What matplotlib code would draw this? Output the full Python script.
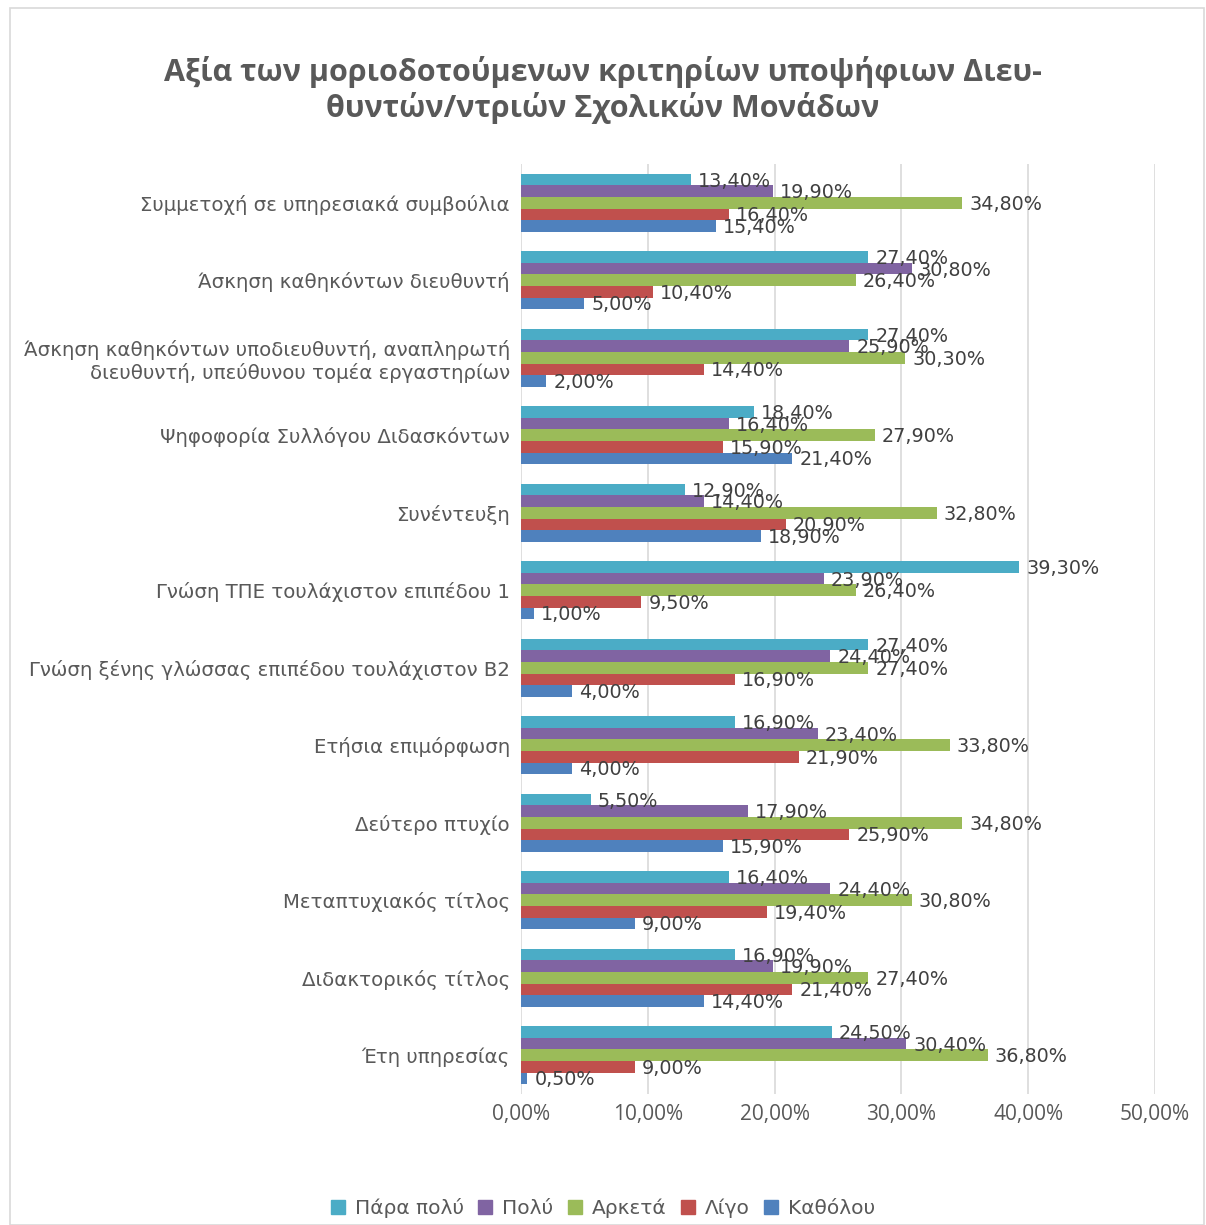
import matplotlib
matplotlib.use("Agg")
import matplotlib.pyplot as plt
from matplotlib.patches import Rectangle
import numpy as np

categories = [
    "Συμμετοχή σε υπηρεσιακά συμβούλια",
    "Άσκηση καθηκόντων διευθυντή",
    "Άσκηση καθηκόντων υποδιευθυντή, αναπληρωτή\nδιευθυντή, υπεύθυνου τομέα εργαστηρίων",
    "Ψηφοφορία Συλλόγου Διδασκόντων",
    "Συνέντευξη",
    "Γνώση ΤΠΕ τουλάχιστον επιπέδου 1",
    "Γνώση ξένης γλώσσας επιπέδου τουλάχιστον Β2",
    "Ετήσια επιμόρφωση",
    "Δεύτερο πτυχίο",
    "Μεταπτυχιακός τίτλος",
    "Διδακτορικός τίτλος",
    "Έτη υπηρεσίας",
]
series_names = ["Πάρα πολύ", "Πολύ", "Αρκετά", "Λίγο", "Καθόλου"]
para_poly = [13.4, 27.4, 27.4, 18.4, 12.9, 39.3, 27.4, 16.9, 5.5, 16.4, 16.9, 24.5]
poly      = [19.9, 30.8, 25.9, 16.4, 14.4, 23.9, 24.4, 23.4, 17.9, 24.4, 19.9, 30.4]
arketa    = [34.8, 26.4, 30.3, 27.9, 32.8, 26.4, 27.4, 33.8, 34.8, 30.8, 27.4, 36.8]
ligo      = [16.4, 10.4, 14.4, 15.9, 20.9, 9.5, 16.9, 21.9, 25.9, 19.4, 21.4, 9.0]
katholou  = [15.4, 5.0, 2.0, 21.4, 18.9, 1.0, 4.0, 4.0, 15.9, 9.0, 14.4, 0.5]
series_values = [para_poly, poly, arketa, ligo, katholou]
xticks = [0, 10, 20, 30, 40, 50]
colors = ["#4BACC6", "#8064A2", "#9BBB59", "#C0504D", "#4F81BD"]

TXT = "#595959"
fig = plt.figure(figsize=(12.06, 12.25), dpi=100)
fig.patches.append(Rectangle((10/1206, 0), 1194/1206, 1 - 8/1225, transform=fig.transFigure,
                             fill=False, edgecolor="#D9D9D9", linewidth=1.2))
ax = fig.add_axes([521/1206, 1 - 1094/1225, 634/1206, (1094 - 164)/1225])

n = len(categories)
bh = 0.1485
y_centers = np.arange(n)
for i, (name, vals, col) in enumerate(zip(series_names, series_values, colors)):
    ys = y_centers + (i - 2) * bh
    ax.barh(ys, vals, height=bh, color=col, label=name, zorder=3)
    for y, v in zip(ys, vals):
        ax.text(v + 0.55, y + 0.02, f"{v:.2f}%".replace(".", ","), va="center", ha="left",
                fontsize=13.8, color="#404040", zorder=4)

ax.set_ylim(n - 0.5, -0.5)
ax.set_xlim(0, 50)
ax.set_yticks(y_centers)
ax.set_yticklabels(categories, fontsize=14.2, color=TXT)
ax.set_xticks(xticks)
ax.set_xticklabels([f"{t:.2f}%".replace(".", ",") for t in xticks], fontsize=15,
                   color=TXT, family="Open Sans")
ax.tick_params(axis="y", length=0, pad=8)
ax.tick_params(axis="x", length=0, pad=7)
for s in ax.spines.values():
    s.set_visible(False)
ax.grid(axis="x", color="#D9D9D9", linewidth=1.2, zorder=0)
ax.set_axisbelow(True)

fig.text(0.5, 1 - 90/1225, "Αξία των μοριοδοτούμενων κριτηρίων υποψήφιων Διευ-\nθυντών/ντριών Σχολικών Μονάδων",
         ha="center", va="center", fontsize=22, fontweight="bold", color=TXT, family="Open Sans",
         linespacing=1.18)

handles = [Rectangle((0, 0), 1, 1, color=c) for c in colors]
fig.legend(handles, series_names, loc="center", bbox_to_anchor=(0.5, 1 - 1208/1225), ncol=5,
           frameon=False, fontsize=14.5, handlelength=0.7, handleheight=0.7, handletextpad=0.5,
           columnspacing=0.7, labelcolor=TXT)

fig.savefig("out.png", dpi=100)
